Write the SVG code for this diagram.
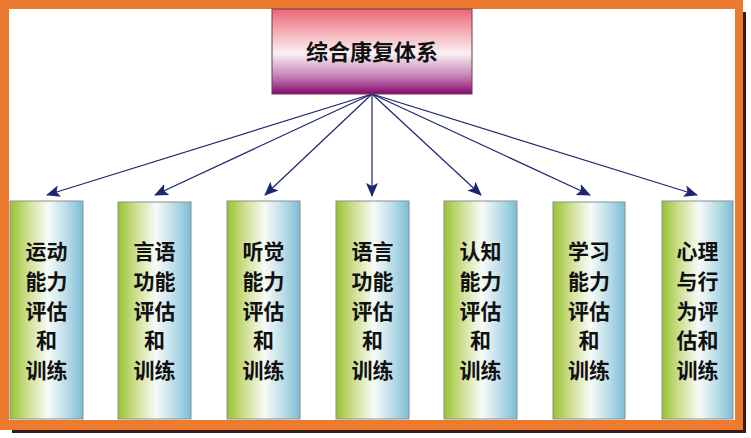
<svg xmlns="http://www.w3.org/2000/svg" width="751" height="438" viewBox="0 0 751 438">
<defs>
<linearGradient id="gTop" x1="0" y1="0" x2="0" y2="1">
<stop offset="0" stop-color="#ee6676"/>
<stop offset="0.52" stop-color="#fbf1f4"/>
<stop offset="0.78" stop-color="#c987b8"/>
<stop offset="1" stop-color="#870a6e"/>
</linearGradient>
<linearGradient id="gCol" x1="0" y1="0" x2="1" y2="0">
<stop offset="0" stop-color="#98c232"/>
<stop offset="0.25" stop-color="#cfe093"/>
<stop offset="0.52" stop-color="#f7fbf8"/>
<stop offset="0.8" stop-color="#b3d9e6"/>
<stop offset="1" stop-color="#7dbcd6"/>
</linearGradient>
<marker id="arr" markerUnits="userSpaceOnUse" markerWidth="14" markerHeight="12" refX="13" refY="6" orient="auto">
<path d="M0,0 L14,6 L0,12 L3,6 Z" fill="#1d2670"/>
</marker>
<style>
.col{fill:url(#gCol);stroke:#8a8f90;stroke-width:1}
.lbl{font-family:"Noto Sans CJK SC","Noto Sans CJK JP",sans-serif;font-weight:bold;font-size:21px;fill:#111;text-anchor:middle}
.conn{stroke:#1d2670;stroke-width:1.2;fill:none;marker-end:url(#arr)}
</style>
</defs>
<rect x="0" y="0" width="751" height="438" fill="#ffffff"/>
<g id="frame">
<rect x="12" y="12" width="734" height="421" fill="#3a1a12"/>
<rect x="0" y="0" width="743" height="430" fill="#ec7b30"/>
<rect x="9" y="9" width="726" height="411" fill="#ffffff"/>
</g>
<g id="connectors">
<line class="conn" x1="372" y1="94" x2="47" y2="195"/>
<line class="conn" x1="372" y1="94" x2="155" y2="195"/>
<line class="conn" x1="372" y1="94" x2="265" y2="195"/>
<line class="conn" x1="372" y1="94" x2="372" y2="196"/>
<line class="conn" x1="372" y1="94" x2="481" y2="195"/>
<line class="conn" x1="372" y1="94" x2="590" y2="195"/>
<line class="conn" x1="372" y1="94" x2="697" y2="195"/>
</g>
<g id="root">
<rect x="272" y="9" width="200" height="85" fill="url(#gTop)" stroke="#6a3a50" stroke-width="1"/>
<text class="lbl" x="372" y="60" style="font-size:22px">综合康复体系</text>
</g>
<g id="n1">
<rect class="col" x="10" y="201" width="73" height="218"/>
<text class="lbl" x="46.5" y="259">运动</text>
<text class="lbl" x="46.5" y="289">能力</text>
<text class="lbl" x="46.5" y="319">评估</text>
<text class="lbl" x="46.5" y="348">和</text>
<text class="lbl" x="46.5" y="378">训练</text>
</g>
<g id="n2">
<rect class="col" x="118" y="202" width="73" height="217"/>
<text class="lbl" x="154.5" y="259">言语</text>
<text class="lbl" x="154.5" y="289">功能</text>
<text class="lbl" x="154.5" y="319">评估</text>
<text class="lbl" x="154.5" y="348">和</text>
<text class="lbl" x="154.5" y="378">训练</text>
</g>
<g id="n3">
<rect class="col" x="227" y="201" width="73" height="218"/>
<text class="lbl" x="263.5" y="259">听觉</text>
<text class="lbl" x="263.5" y="289">能力</text>
<text class="lbl" x="263.5" y="319">评估</text>
<text class="lbl" x="263.5" y="348">和</text>
<text class="lbl" x="263.5" y="378">训练</text>
</g>
<g id="n4">
<rect class="col" x="336" y="201" width="73" height="218"/>
<text class="lbl" x="372.5" y="259">语言</text>
<text class="lbl" x="372.5" y="289">功能</text>
<text class="lbl" x="372.5" y="319">评估</text>
<text class="lbl" x="372.5" y="348">和</text>
<text class="lbl" x="372.5" y="378">训练</text>
</g>
<g id="n5">
<rect class="col" x="444" y="201" width="73" height="218"/>
<text class="lbl" x="480.5" y="259">认知</text>
<text class="lbl" x="480.5" y="289">能力</text>
<text class="lbl" x="480.5" y="319">评估</text>
<text class="lbl" x="480.5" y="348">和</text>
<text class="lbl" x="480.5" y="378">训练</text>
</g>
<g id="n6">
<rect class="col" x="553" y="202" width="72" height="217"/>
<text class="lbl" x="589" y="259">学习</text>
<text class="lbl" x="589" y="289">能力</text>
<text class="lbl" x="589" y="319">评估</text>
<text class="lbl" x="589" y="348">和</text>
<text class="lbl" x="589" y="378">训练</text>
</g>
<g id="n7">
<rect class="col" x="662" y="201" width="71" height="218"/>
<text class="lbl" x="697.5" y="259">心理</text>
<text class="lbl" x="697.5" y="289">与行</text>
<text class="lbl" x="697.5" y="319">为评</text>
<text class="lbl" x="697.5" y="348">估和</text>
<text class="lbl" x="697.5" y="378">训练</text>
</g>
</svg>
